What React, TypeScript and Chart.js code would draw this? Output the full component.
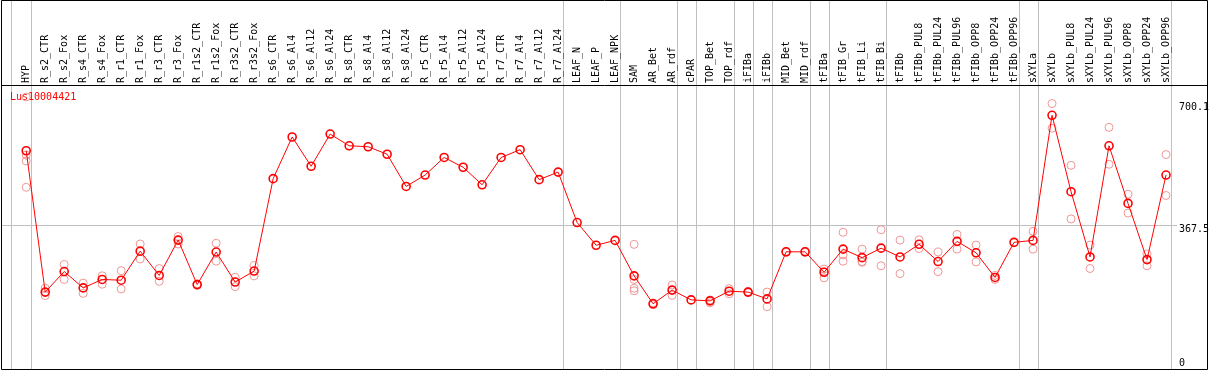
import React, { useEffect, useRef } from "react";
import { Chart, registerables } from "chart.js";

Chart.register(...registerables);

const TITLE = "Lus10004421";

const categories: string[] = [
  "HYP", "R_s2_CTR", "R_s2_Fox", "R_s4_CTR", "R_s4_Fox", "R_r1_CTR", "R_r1_Fox", "R_r3_CTR", "R_r3_Fox",
  "R_r1s2_CTR", "R_r1s2_Fox", "R_r3s2_CTR", "R_r3s2_Fox", "R_s6_CTR", "R_s6_Al4", "R_s6_Al12", "R_s6_Al24",
  "R_s8_CTR", "R_s8_Al4", "R_s8_Al12", "R_s8_Al24", "R_r5_CTR", "R_r5_Al4", "R_r5_Al12", "R_r5_Al24",
  "R_r7_CTR", "R_r7_Al4", "R_r7_Al12", "R_r7_Al24", "LEAF_N", "LEAF_P", "LEAF_NPK", "SAM", "AR_Bet", "AR_rdf",
  "cPAR", "TOP_Bet", "TOP_rdf", "iFIBa", "iFIBb", "MID_Bet", "MID_rdf", "tFIBa", "tFIB_Gr", "tFIB_Li", "tFIB_Bi",
  "tFIBb", "tFIBb_PUL8", "tFIBb_PUL24", "tFIBb_PUL96", "tFIBb_OPP8", "tFIBb_OPP24", "tFIBb_OPP96", "sXYLa",
  "sXYLb", "sXYLb_PUL8", "sXYLb_PUL24", "sXYLb_PUL96", "sXYLb_OPP8", "sXYLb_OPP24", "sXYLb_OPP96",
];

const means: number[] = [
  571, 184.5, 240.6, 196, 219, 217, 296.5, 230, 326.7,
  205, 294, 212, 242, 494.7, 608.6, 528.6, 616.6,
  584.6, 581.9, 561.4, 473.4, 504.6, 552.6, 525.9, 477.9,
  552.6, 573.9, 492, 512.6, 374.7, 312.6, 325.9, 228.9, 152.5, 189.9,
  163.2, 160.5, 187, 184.5, 165.9, 294.7, 294.7, 238.7, 301.9, 278.7, 304.6,
  280.6, 315.2, 268, 323.2, 292, 224.5, 320.5, 325.9,
  668, 459, 280.6, 584.6, 427, 273.4, 504.6,
];

const N = null;
const repA: (number | null)[] = [
  718, 195, 260, 209, 229, 243, 316, 249, 336.5,
  207, 318, 225, 257, N, N, N, N,
  N, N, N, N, N, N, N, N,
  N, N, N, N, N, N, N, 315, 155, 204,
  N, 163, 194, 186, 184.5, 296, 296, 247.5, 348, 302, 355,
  326.7, 327.6, 294, 342, 313, 230, N, 350.7,
  700.1, 531, 313, 635, 452, 288.5, 560.6,
];
const repB: (number | null)[] = [
  559, 175, 219, 181, 206, 193, 275, 214, 316,
  203, 269, 199.5, 229, N, N, N, N,
  N, N, N, N, N, N, N, N,
  N, N, N, N, N, N, N, 219, 150, 175.5,
  N, 155, 180, 183, 144.5, 293, 293, 223.5, 286, 266, 256.5,
  235, 303.6, 240.5, 302, 267, 219, N, 302,
  632.6, 384.5, 249, 534, 400.5, 256.5, 448.6,
];
const repC: (number | null)[] = [
  543, N, N, N, N, N, N, N, N,
  N, N, N, N, N, N, N, N,
  N, N, N, N, N, N, N, N,
  N, N, N, N, N, N, N, 195, N, N,
  N, N, N, N, N, N, N, 240, 269, 268, N,
  N, N, N, N, N, N, N, N,
  N, N, N, N, N, N, N,
];
const repD: (number | null)[] = [
  471, N, N, N, N, N, N, N, N,
  N, N, N, N, N, N, N, N,
  N, N, N, N, N, N, N, N,
  N, N, N, N, N, N, N, 188, N, N,
  N, N, N, N, N, N, N, N, N, N, N,
  N, N, N, N, N, N, N, N,
  N, N, N, N, N, N, N,
];

const yTicks: number[] = [0, 367.5, 700.1];
const groupLines: number[] = [-0.8, 0.25, 28.25, 31.25, 34.25, 35.25, 37.25, 38.25, 39.25, 41.25, 42.25, 45.25, 52.25, 53.25, 60.25];

const W = 1209;
const H = 370;
const FONT = "10px 'DejaVu Sans Mono', monospace";

export default function App() {
  const ref = useRef<HTMLCanvasElement | null>(null);

  useEffect(() => {
    const canvas = ref.current;
    if (!canvas) return;

    const meanData = means.map((v, i) => ({ x: i, y: v }));
    const repData: { x: number; y: number }[] = [];
    [repA, repB, repC, repD].forEach((arr) => {
      arr.forEach((v, i) => {
        if (v !== null) repData.push({ x: i, y: v });
      });
    });

    const decor = {
      id: "decor",
      beforeDatasetsDraw(chart: any) {
        const ctx = chart.ctx;
        const xs = chart.scales.x;
        ctx.save();
        // group separator lines
        ctx.strokeStyle = "#c0c0c0";
        ctx.lineWidth = 1;
        groupLines.forEach((g) => {
          const px = Math.round(xs.getPixelForValue(g)) + 0.5;
          ctx.beginPath();
          ctx.moveTo(px, 0);
          ctx.lineTo(px, 369);
          ctx.stroke();
        });
        // category labels
        ctx.fillStyle = "#000";
        ctx.font = FONT;
        ctx.textAlign = "left";
        ctx.textBaseline = "middle";
        categories.forEach((c, i) => {
          const px = xs.getPixelForValue(i);
          ctx.save();
          ctx.translate(px, 83);
          ctx.rotate(-Math.PI / 2);
          ctx.fillText(c, 0, 0);
          ctx.restore();
        });
        // title
        ctx.fillStyle = "#ff0000";
        ctx.fillText(TITLE, 10, 97);
        // frame
        ctx.strokeStyle = "#000";
        ctx.beginPath();
        ctx.moveTo(1.5, 0.5);
        ctx.lineTo(1207.5, 0.5);
        ctx.lineTo(1207.5, 369.5);
        ctx.lineTo(1.5, 369.5);
        ctx.closePath();
        ctx.moveTo(1.5, 85.5);
        ctx.lineTo(1207.5, 85.5);
        ctx.stroke();
        ctx.restore();
      },
    };

    const chart = new Chart(canvas, {
      type: "line",
      data: {
        datasets: [
          {
            label: "mean",
            data: meanData,
            borderColor: "#ff0000",
            borderWidth: 1,
            pointStyle: "circle",
            pointRadius: 4,
            pointBorderWidth: 1.6,
            pointBorderColor: "#ff0000",
            pointBackgroundColor: "rgba(0,0,0,0)",
            tension: 0,
            fill: false,
          },
          {
            label: "replicates",
            data: repData,
            showLine: false,
            borderColor: "#f09595",
            pointStyle: "circle",
            pointRadius: 4,
            pointBorderWidth: 1,
            pointBorderColor: "#f09595",
            pointBackgroundColor: "rgba(0,0,0,0)",
          },
        ],
      },
      options: {
        animation: false,
        responsive: false,
        events: [],
        layout: { autoPadding: false, padding: { top: 85, left: 1, right: 0, bottom: 1 } },
        plugins: { legend: { display: false }, tooltip: { enabled: false }, title: { display: false } },
        scales: {
          x: { type: "linear", min: -1.3265, max: 60.578, display: false },
          y: {
            type: "linear",
            position: "right",
            min: -6.668,
            max: 750.78,
            afterFit: (s: any) => {
              s.width = 32;
            },
            afterBuildTicks: (s: any) => {
              s.ticks = yTicks.map((v) => ({ value: v }));
            },
            border: { display: false },
            grid: {
              drawTicks: false,
              lineWidth: 1,
              color: (c: any) => (c.tick && c.tick.value === 367.5 ? "#c0c0c0" : "rgba(0,0,0,0)"),
            },
            ticks: {
              padding: 2,
              labelOffset: 4,
              color: "#000",
              font: { family: "'DejaVu Sans Mono', monospace", size: 10 },
              callback: (v: any) => String(v),
            },
          },
        },
      },
      plugins: [decor],
    });

    return () => chart.destroy();
  }, []);

  return (
    <div style={{ position: "absolute", left: 0, top: 0, width: W, height: H, background: "#fff" }}>
      <canvas ref={ref} width={W} height={H} style={{ display: "block" }} />
    </div>
  );
}
